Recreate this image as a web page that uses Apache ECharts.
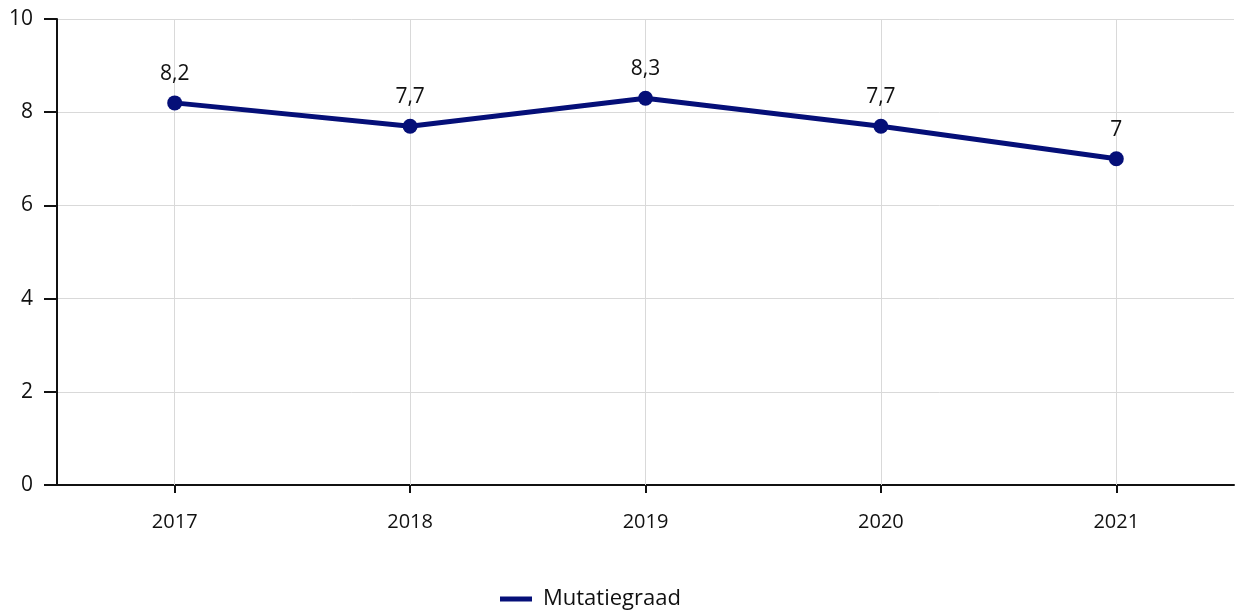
<!DOCTYPE html>
<html><head><meta charset="utf-8">
<script src="https://cdn.jsdelivr.net/npm/echarts@6/dist/echarts.min.js"></script>
<style>html,body{margin:0;padding:0;background:#fff}#c{width:1235px;height:615px}</style>
</head><body><div id="c"></div>
<script>
const categories = ['2017','2018','2019','2020','2021'];
const values = [8.2, 7.7, 8.3, 7.7, 7];
const seriesName = 'Mutatiegraad';
const yTicks = [0, 2, 4, 6, 8, 10];

const chart = echarts.init(document.getElementById('c'), null, {renderer:'canvas'});
const font = '"Open Sans", "Noto Sans", sans-serif';
const navy = '#050f78';
chart.setOption({
  animation: false,
  textStyle: {fontFamily: font},
  grid: {left: 57, right: 1, top: 19, bottom: 130, containLabel: false},
  legend: {
    bottom: 0, left: 495,
    itemWidth: 32, itemHeight: 5, itemGap: 10,
    textStyle: {fontSize: 22, color: '#111', fontFamily: font, padding: [0, 0, 0, 6]},
    data: [{name: seriesName, icon: 'rect'}]
  },
  xAxis: {
    type: 'category', data: categories, boundaryGap: true,
    axisLine: {show: true, lineStyle: {color: '#111', width: 2}},
    axisTick: {show: true, alignWithLabel: true, length: 8, lineStyle: {color: '#111', width: 2}},
    axisLabel: {fontSize: 20, color: '#111', margin: 27, fontFamily: font},
    splitLine: {show: false}
  },
  yAxis: {
    type: 'value', min: yTicks[0], max: yTicks[yTicks.length-1], interval: 2,
    axisLine: {show: true, lineStyle: {color: '#111', width: 2}},
    axisTick: {show: true, length: 13, lineStyle: {color: '#111', width: 2}},
    axisLabel: {fontSize: 21, color: '#111', margin: 24, fontFamily: font},
    splitLine: {show: true, lineStyle: {color: '#d9d9d9', width: 1}}
  },
  series: [{
    name: 'grid', type: 'line', data: [], silent: true, z: 1,
    markLine: {
      silent: true, symbol: 'none', label: {show: false}, z: 1,
      lineStyle: {color: '#d9d9d9', width: 1, type: 'solid'},
      data: categories.map(c => ({xAxis: c}))
    }
  }, {
    name: seriesName, type: 'line', data: values, z: 10,
    color: navy,
    lineStyle: {width: 5, color: navy},
    symbol: 'circle', symbolSize: 15,
    itemStyle: {color: navy},
    label: {show: true, position: 'top', distance: 11, fontSize: 21, color: '#111', fontFamily: font,
      formatter: p => String(p.value).replace('.', ',')}
  }]
});
</script></body></html>
